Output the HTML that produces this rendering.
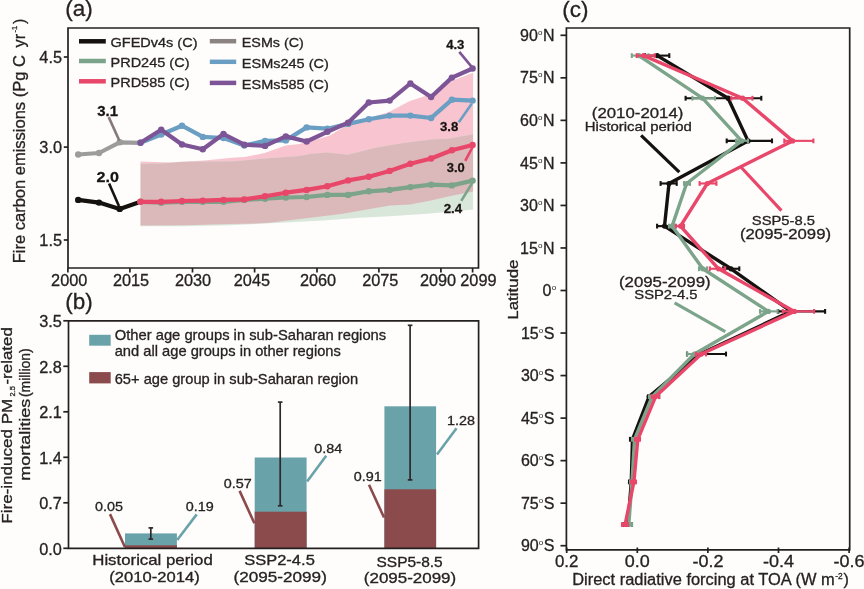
<!DOCTYPE html>
<html><head><meta charset="utf-8"><title>Figure</title>
<style>html,body{margin:0;padding:0;background:#fefdfb;}svg{display:block;}text{stroke:#272220;stroke-width:0.3px;}</style>
</head><body>
<svg width="864" height="589" viewBox="0 0 864 589" font-family='"Liberation Sans", Arial, sans-serif' fill="#272220">
<rect width="864" height="589" fill="#fefdfb"/>
<defs>
<clipPath id="cg"><polygon points="140.5,163.7 161,163.4 182,161.8 204,161.6 235,161.3 265,158.4 299.4,156 311,153.7 327.4,152.4 347.8,154.8 375.6,147.8 403.3,143.1 431.1,139.4 449.6,138.5 473.1,134.3 473.1,209.5 429.8,213.6 390,216.3 359.6,217.8 322.6,220.6 285.6,222.4 230,225.2 183.2,226.3 140.5,226.2"/></clipPath>
</defs>
<polygon points="140.5,161.6 170.0,162.6 204.0,160.4 235.0,157.5 245.0,156.9 264.7,153.1 285.6,145.6 299.4,143.9 311.0,141.0 330.0,135.5 347.6,124.5 368.5,118.0 389.0,112.0 409.8,101.0 430.8,94.2 451.7,81.1 473.1,72.8 473.1,191.6 449.4,196.2 429.8,200.8 410.0,204.5 390.0,205.6 341.1,213.9 304.0,218.5 267.0,223.1 230.0,224.1 183.2,225.2 140.5,225.6" fill="#f8c4d0" />
<polygon points="140.5,163.7 161.0,163.4 182.0,161.8 204.0,161.6 235.0,161.3 265.0,158.4 299.4,156.0 311.0,153.7 327.4,152.4 347.8,154.8 375.6,147.8 403.3,143.1 431.1,139.4 449.6,138.5 473.1,134.3 473.1,209.5 429.8,213.6 390.0,216.3 359.6,217.8 322.6,220.6 285.6,222.4 230.0,225.2 183.2,226.3 140.5,226.2" fill="#d9e6da" />
<polygon points="140.5,161.6 170.0,162.6 204.0,160.4 235.0,157.5 245.0,156.9 264.7,153.1 285.6,145.6 299.4,143.9 311.0,141.0 330.0,135.5 347.6,124.5 368.5,118.0 389.0,112.0 409.8,101.0 430.8,94.2 451.7,81.1 473.1,72.8 473.1,191.6 449.4,196.2 429.8,200.8 410.0,204.5 390.0,205.6 341.1,213.9 304.0,218.5 267.0,223.1 230.0,224.1 183.2,225.2 140.5,225.6" fill="#dbb9ba" clip-path="url(#cg)"/>
<polyline points="78.2,199.9 99.0,202.6 119.7,208.9 140.5,201.8" fill="none" stroke="#14110f" stroke-width="4.2" stroke-linejoin="round" />
<circle cx="78.2" cy="199.9" r="3.2" fill="#14110f"/>
<circle cx="99.0" cy="202.6" r="3.2" fill="#14110f"/>
<circle cx="119.7" cy="208.9" r="3.2" fill="#14110f"/>
<polyline points="78.2,154.5 99.0,153.0 119.7,142.3 140.5,142.8" fill="none" stroke="#9c9c9b" stroke-width="4.2" stroke-linejoin="round" />
<circle cx="78.2" cy="154.5" r="3.2" fill="#9c9c9b"/>
<circle cx="99.0" cy="153.0" r="3.2" fill="#9c9c9b"/>
<circle cx="119.7" cy="142.3" r="3.2" fill="#9c9c9b"/>
<polyline points="140.5,142.8 161.2,134.5 182.0,125.7 202.8,136.9 223.5,138.0 244.3,145.6 265.0,140.9 285.8,140.4 306.6,127.4 327.3,128.7 348.1,123.9 368.8,119.2 389.6,115.6 410.4,115.6 431.1,118.0 451.9,99.7 472.6,100.6" fill="none" stroke="#6a9fc3" stroke-width="4.2" stroke-linejoin="round" />
<circle cx="140.5" cy="142.8" r="3.2" fill="#6a9fc3"/>
<circle cx="161.2" cy="134.5" r="3.2" fill="#6a9fc3"/>
<circle cx="182.0" cy="125.7" r="3.2" fill="#6a9fc3"/>
<circle cx="202.8" cy="136.9" r="3.2" fill="#6a9fc3"/>
<circle cx="223.5" cy="138.0" r="3.2" fill="#6a9fc3"/>
<circle cx="244.3" cy="145.6" r="3.2" fill="#6a9fc3"/>
<circle cx="265.0" cy="140.9" r="3.2" fill="#6a9fc3"/>
<circle cx="285.8" cy="140.4" r="3.2" fill="#6a9fc3"/>
<circle cx="306.6" cy="127.4" r="3.2" fill="#6a9fc3"/>
<circle cx="327.3" cy="128.7" r="3.2" fill="#6a9fc3"/>
<circle cx="348.1" cy="123.9" r="3.2" fill="#6a9fc3"/>
<circle cx="368.8" cy="119.2" r="3.2" fill="#6a9fc3"/>
<circle cx="389.6" cy="115.6" r="3.2" fill="#6a9fc3"/>
<circle cx="410.4" cy="115.6" r="3.2" fill="#6a9fc3"/>
<circle cx="431.1" cy="118.0" r="3.2" fill="#6a9fc3"/>
<circle cx="451.9" cy="99.7" r="3.2" fill="#6a9fc3"/>
<circle cx="472.6" cy="100.6" r="3.2" fill="#6a9fc3"/>
<polyline points="140.5,142.8 161.2,129.7 182.0,144.5 202.8,149.2 223.5,134.0 244.3,144.7 265.0,145.9 285.8,136.4 306.6,141.5 327.3,131.8 348.1,122.7 368.8,102.5 389.6,100.6 410.4,83.5 431.1,97.0 451.9,77.6 472.6,68.5" fill="none" stroke="#7d5597" stroke-width="4.2" stroke-linejoin="round" />
<circle cx="140.5" cy="142.8" r="3.2" fill="#7d5597"/>
<circle cx="161.2" cy="129.7" r="3.2" fill="#7d5597"/>
<circle cx="182.0" cy="144.5" r="3.2" fill="#7d5597"/>
<circle cx="202.8" cy="149.2" r="3.2" fill="#7d5597"/>
<circle cx="223.5" cy="134.0" r="3.2" fill="#7d5597"/>
<circle cx="244.3" cy="144.7" r="3.2" fill="#7d5597"/>
<circle cx="265.0" cy="145.9" r="3.2" fill="#7d5597"/>
<circle cx="285.8" cy="136.4" r="3.2" fill="#7d5597"/>
<circle cx="306.6" cy="141.5" r="3.2" fill="#7d5597"/>
<circle cx="327.3" cy="131.8" r="3.2" fill="#7d5597"/>
<circle cx="348.1" cy="122.7" r="3.2" fill="#7d5597"/>
<circle cx="368.8" cy="102.5" r="3.2" fill="#7d5597"/>
<circle cx="389.6" cy="100.6" r="3.2" fill="#7d5597"/>
<circle cx="410.4" cy="83.5" r="3.2" fill="#7d5597"/>
<circle cx="431.1" cy="97.0" r="3.2" fill="#7d5597"/>
<circle cx="451.9" cy="77.6" r="3.2" fill="#7d5597"/>
<circle cx="472.6" cy="68.5" r="3.2" fill="#7d5597"/>
<polyline points="140.5,201.8 161.2,202.7 182.0,201.8 202.8,201.8 223.5,201.8 244.3,199.9 265.0,198.7 285.8,197.5 306.6,197.0 327.3,194.9 348.1,194.9 368.8,191.3 389.6,189.9 410.4,187.1 431.1,184.7 451.9,185.4 472.6,180.6" fill="none" stroke="#7ca48b" stroke-width="4.2" stroke-linejoin="round" />
<circle cx="140.5" cy="201.8" r="3.2" fill="#7ca48b"/>
<circle cx="161.2" cy="202.7" r="3.2" fill="#7ca48b"/>
<circle cx="182.0" cy="201.8" r="3.2" fill="#7ca48b"/>
<circle cx="202.8" cy="201.8" r="3.2" fill="#7ca48b"/>
<circle cx="223.5" cy="201.8" r="3.2" fill="#7ca48b"/>
<circle cx="244.3" cy="199.9" r="3.2" fill="#7ca48b"/>
<circle cx="265.0" cy="198.7" r="3.2" fill="#7ca48b"/>
<circle cx="285.8" cy="197.5" r="3.2" fill="#7ca48b"/>
<circle cx="306.6" cy="197.0" r="3.2" fill="#7ca48b"/>
<circle cx="327.3" cy="194.9" r="3.2" fill="#7ca48b"/>
<circle cx="348.1" cy="194.9" r="3.2" fill="#7ca48b"/>
<circle cx="368.8" cy="191.3" r="3.2" fill="#7ca48b"/>
<circle cx="389.6" cy="189.9" r="3.2" fill="#7ca48b"/>
<circle cx="410.4" cy="187.1" r="3.2" fill="#7ca48b"/>
<circle cx="431.1" cy="184.7" r="3.2" fill="#7ca48b"/>
<circle cx="451.9" cy="185.4" r="3.2" fill="#7ca48b"/>
<circle cx="472.6" cy="180.6" r="3.2" fill="#7ca48b"/>
<polyline points="140.5,201.8 161.2,201.8 182.0,201.0 202.8,200.6 223.5,199.9 244.3,199.4 265.0,196.3 285.8,192.7 306.6,189.9 327.3,186.3 348.1,180.4 368.8,176.8 389.6,170.9 410.4,163.8 431.1,158.5 451.9,150.2 472.6,145.0" fill="none" stroke="#e8476a" stroke-width="4.2" stroke-linejoin="round" />
<circle cx="140.5" cy="201.8" r="3.2" fill="#e8476a"/>
<circle cx="161.2" cy="201.8" r="3.2" fill="#e8476a"/>
<circle cx="182.0" cy="201.0" r="3.2" fill="#e8476a"/>
<circle cx="202.8" cy="200.6" r="3.2" fill="#e8476a"/>
<circle cx="223.5" cy="199.9" r="3.2" fill="#e8476a"/>
<circle cx="244.3" cy="199.4" r="3.2" fill="#e8476a"/>
<circle cx="265.0" cy="196.3" r="3.2" fill="#e8476a"/>
<circle cx="285.8" cy="192.7" r="3.2" fill="#e8476a"/>
<circle cx="306.6" cy="189.9" r="3.2" fill="#e8476a"/>
<circle cx="327.3" cy="186.3" r="3.2" fill="#e8476a"/>
<circle cx="348.1" cy="180.4" r="3.2" fill="#e8476a"/>
<circle cx="368.8" cy="176.8" r="3.2" fill="#e8476a"/>
<circle cx="389.6" cy="170.9" r="3.2" fill="#e8476a"/>
<circle cx="410.4" cy="163.8" r="3.2" fill="#e8476a"/>
<circle cx="431.1" cy="158.5" r="3.2" fill="#e8476a"/>
<circle cx="451.9" cy="150.2" r="3.2" fill="#e8476a"/>
<circle cx="472.6" cy="145.0" r="3.2" fill="#e8476a"/>
<line x1="108.7" y1="117.1" x2="119.3" y2="140.5" stroke="#85797a" stroke-width="2.6" />
<text x="97.3" y="115.5" font-size="15.5" textLength="20.8" lengthAdjust="spacingAndGlyphs" font-weight="bold" fill="#151210" >3.1</text>
<line x1="109.1" y1="183.5" x2="118.9" y2="206" stroke="#14110f" stroke-width="2.6" />
<text x="96.6" y="182.1" font-size="15.5" textLength="22.4" lengthAdjust="spacingAndGlyphs" font-weight="bold" fill="#151210" >2.0</text>
<line x1="459.3" y1="51.9" x2="471.7" y2="66.9" stroke="#7d5597" stroke-width="2.6" />
<text x="446.2" y="48.9" font-size="13.3" textLength="18.2" lengthAdjust="spacingAndGlyphs" font-weight="bold" fill="#151210" >4.3</text>
<line x1="458.8" y1="122.2" x2="471.7" y2="103.7" stroke="#6a9fc3" stroke-width="2.6" />
<text x="440" y="130.8" font-size="13.3" textLength="18.4" lengthAdjust="spacingAndGlyphs" font-weight="bold" fill="#151210" >3.8</text>
<line x1="465.2" y1="160.9" x2="473.1" y2="146.2" stroke="#e8476a" stroke-width="2.6" />
<text x="446.8" y="171.6" font-size="13.3" textLength="18" lengthAdjust="spacingAndGlyphs" font-weight="bold" fill="#151210" >3.0</text>
<line x1="461.2" y1="200.9" x2="472.4" y2="182.8" stroke="#7ca48b" stroke-width="2.6" />
<text x="443.7" y="212.7" font-size="13.3" textLength="18.5" lengthAdjust="spacingAndGlyphs" font-weight="bold" fill="#151210" >2.4</text>
<line x1="79" y1="41.3" x2="105.8" y2="41.3" stroke="#14110f" stroke-width="4.5" />
<text x="110.5" y="47.099999999999994" font-size="13.3" textLength="87" lengthAdjust="spacingAndGlyphs" >GFEDv4s (C)</text>
<line x1="79" y1="61.0" x2="105.8" y2="61.0" stroke="#7ca48b" stroke-width="4.5" />
<text x="110.5" y="66.8" font-size="13.3" textLength="79" lengthAdjust="spacingAndGlyphs" >PRD245 (C)</text>
<line x1="79" y1="81.3" x2="105.8" y2="81.3" stroke="#e8476a" stroke-width="4.5" />
<text x="110.5" y="87.1" font-size="13.3" textLength="79" lengthAdjust="spacingAndGlyphs" >PRD585 (C)</text>
<line x1="209.8" y1="41.2" x2="236.2" y2="41.2" stroke="#8b8282" stroke-width="4.5" />
<text x="241.8" y="47.0" font-size="13.3" textLength="62" lengthAdjust="spacingAndGlyphs" >ESMs (C)</text>
<line x1="209.8" y1="61.8" x2="236.2" y2="61.8" stroke="#6a9fc3" stroke-width="4.5" />
<text x="241.8" y="67.6" font-size="13.3" textLength="87" lengthAdjust="spacingAndGlyphs" >ESMs245 (C)</text>
<line x1="209.8" y1="82.9" x2="236.2" y2="82.9" stroke="#7d5597" stroke-width="4.5" />
<text x="241.8" y="88.7" font-size="13.3" textLength="87" lengthAdjust="spacingAndGlyphs" >ESMs585 (C)</text>
<path d="M68 268 V28 H478.5 V268 Z" fill="none" stroke="#242020" stroke-width="1.7"/>
<line x1="63.8" y1="57" x2="68" y2="57" stroke="#242020" stroke-width="1.7" />
<text x="62" y="62.7" font-size="16.3" text-anchor="end" >4.5</text>
<line x1="63.8" y1="147.1" x2="68" y2="147.1" stroke="#242020" stroke-width="1.7" />
<text x="62" y="152.79999999999998" font-size="16.3" text-anchor="end" >3.0</text>
<line x1="63.8" y1="240" x2="68" y2="240" stroke="#242020" stroke-width="1.7" />
<text x="62" y="245.7" font-size="16.3" text-anchor="end" >1.5</text>
<line x1="67.9" y1="268" x2="67.9" y2="272.5" stroke="#242020" stroke-width="1.7" />
<text x="69.2" y="286.3" font-size="16.3" text-anchor="middle" >2000</text>
<line x1="129.9" y1="268" x2="129.9" y2="272.5" stroke="#242020" stroke-width="1.7" />
<text x="131" y="286.3" font-size="16.3" text-anchor="middle" >2015</text>
<line x1="192.5" y1="268" x2="192.5" y2="272.5" stroke="#242020" stroke-width="1.7" />
<text x="193" y="286.3" font-size="16.3" text-anchor="middle" >2030</text>
<line x1="254.6" y1="268" x2="254.6" y2="272.5" stroke="#242020" stroke-width="1.7" />
<text x="251.9" y="286.3" font-size="16.3" text-anchor="middle" >2045</text>
<line x1="317" y1="268" x2="317" y2="272.5" stroke="#242020" stroke-width="1.7" />
<text x="318" y="286.3" font-size="16.3" text-anchor="middle" >2060</text>
<line x1="378.9" y1="268" x2="378.9" y2="272.5" stroke="#242020" stroke-width="1.7" />
<text x="380.3" y="286.3" font-size="16.3" text-anchor="middle" >2075</text>
<line x1="440.9" y1="268" x2="440.9" y2="272.5" stroke="#242020" stroke-width="1.7" />
<text x="438" y="286.3" font-size="16.3" text-anchor="middle" >2090</text>
<line x1="472.6" y1="268" x2="472.6" y2="272.5" stroke="#242020" stroke-width="1.7" />
<text x="478.4" y="286.3" font-size="16.3" text-anchor="middle" >2099</text>
<text x="65.3" y="16" font-size="22.5" >(a)</text>
<g transform="translate(25.4 263.2) rotate(-90)">
<text x="0" y="0" font-size="16" textLength="208" lengthAdjust="spacingAndGlyphs" >Fire carbon emissions (Pg C</text>
<text x="215.8" y="0" font-size="16" textLength="13.6" lengthAdjust="spacingAndGlyphs" >yr</text>
<text x="230.6" y="-8.6" font-size="7.5" textLength="6.8" lengthAdjust="spacingAndGlyphs" >-1</text>
<text x="239.2" y="0" font-size="16" >)</text>
</g>
<text x="65.3" y="308.7" font-size="22.5" >(b)</text>
<rect x="89.2" y="334.8" width="21.5" height="10.9" fill="#6aa2aa"/>
<rect x="89.2" y="372.1" width="21.5" height="11.3" fill="#8b4a4c"/>
<text x="114.7" y="339.9" font-size="14.6" textLength="271.5" lengthAdjust="spacingAndGlyphs" >Other age groups in sub-Saharan regions</text>
<text x="114.7" y="356.4" font-size="14.6" textLength="226.2" lengthAdjust="spacingAndGlyphs" >and all age groups in other regions</text>
<text x="114.7" y="384.2" font-size="14.6" textLength="243.5" lengthAdjust="spacingAndGlyphs" >65+ age group in sub-Saharan region</text>
<rect x="125.0" y="533.4" width="51.9" height="14.9" fill="#6aa2aa"/>
<rect x="125.0" y="545.3" width="51.9" height="3.0" fill="#8b4a4c"/>
<rect x="254.7" y="457.5" width="51.9" height="90.8" fill="#6aa2aa"/>
<rect x="254.7" y="511.7" width="51.9" height="36.6" fill="#8b4a4c"/>
<rect x="384.4" y="406.3" width="51.7" height="142.0" fill="#6aa2aa"/>
<rect x="384.4" y="489.3" width="51.7" height="59.0" fill="#8b4a4c"/>
<line x1="150.8" y1="527.9" x2="150.8" y2="539.1" stroke="#2f2829" stroke-width="1.7" />
<line x1="148.5" y1="527.9" x2="153.10000000000002" y2="527.9" stroke="#2f2829" stroke-width="1.7" />
<line x1="148.5" y1="539.1" x2="153.10000000000002" y2="539.1" stroke="#2f2829" stroke-width="1.7" />
<line x1="280.2" y1="402.1" x2="280.2" y2="505.8" stroke="#2f2829" stroke-width="1.7" />
<line x1="277.9" y1="402.1" x2="282.5" y2="402.1" stroke="#2f2829" stroke-width="1.7" />
<line x1="277.9" y1="505.8" x2="282.5" y2="505.8" stroke="#2f2829" stroke-width="1.7" />
<line x1="410.1" y1="325.3" x2="410.1" y2="479.9" stroke="#2f2829" stroke-width="1.7" />
<line x1="407.8" y1="325.3" x2="412.40000000000003" y2="325.3" stroke="#2f2829" stroke-width="1.7" />
<line x1="407.8" y1="479.9" x2="412.40000000000003" y2="479.9" stroke="#2f2829" stroke-width="1.7" />
<line x1="110" y1="514.1" x2="125" y2="547.2" stroke="#8b4a4c" stroke-width="2.6" />
<line x1="196.7" y1="514.4" x2="177.2" y2="540" stroke="#6aa2aa" stroke-width="2.6" />
<line x1="239.6" y1="490.9" x2="254.4" y2="523.3" stroke="#8b4a4c" stroke-width="2.6" />
<line x1="326.2" y1="455.7" x2="307.1" y2="481.6" stroke="#6aa2aa" stroke-width="2.6" />
<line x1="369" y1="484.7" x2="384" y2="517.5" stroke="#8b4a4c" stroke-width="2.6" />
<line x1="456.5" y1="428.3" x2="437" y2="454.5" stroke="#6aa2aa" stroke-width="2.6" />
<text x="94.9" y="510.7" font-size="13.3" textLength="28" lengthAdjust="spacingAndGlyphs" >0.05</text>
<text x="185.7" y="510.7" font-size="13.3" textLength="28" lengthAdjust="spacingAndGlyphs" >0.19</text>
<text x="223.8" y="487.7" font-size="13.3" textLength="28" lengthAdjust="spacingAndGlyphs" >0.57</text>
<text x="314.3" y="452.5" font-size="13.3" textLength="28" lengthAdjust="spacingAndGlyphs" >0.84</text>
<text x="353.8" y="481.3" font-size="13.3" textLength="28" lengthAdjust="spacingAndGlyphs" >0.91</text>
<text x="447" y="425.1" font-size="13.3" textLength="28" lengthAdjust="spacingAndGlyphs" >1.28</text>
<path d="M68.5 548.3 V320.8 H478.6 V548.3 Z" fill="none" stroke="#242020" stroke-width="1.7"/>
<line x1="63.3" y1="320.8" x2="68.5" y2="320.8" stroke="#242020" stroke-width="1.7" />
<text x="61.8" y="327.0" font-size="16.3" text-anchor="end" >3.5</text>
<line x1="63.3" y1="366.3" x2="68.5" y2="366.3" stroke="#242020" stroke-width="1.7" />
<text x="61.8" y="372.5" font-size="16.3" text-anchor="end" >2.8</text>
<line x1="63.3" y1="411.79999999999995" x2="68.5" y2="411.79999999999995" stroke="#242020" stroke-width="1.7" />
<text x="61.8" y="417.99999999999994" font-size="16.3" text-anchor="end" >2.1</text>
<line x1="63.3" y1="457.29999999999995" x2="68.5" y2="457.29999999999995" stroke="#242020" stroke-width="1.7" />
<text x="61.8" y="463.49999999999994" font-size="16.3" text-anchor="end" >1.4</text>
<line x1="63.3" y1="502.79999999999995" x2="68.5" y2="502.79999999999995" stroke="#242020" stroke-width="1.7" />
<text x="61.8" y="508.99999999999994" font-size="16.3" text-anchor="end" >0.7</text>
<line x1="63.3" y1="548.3" x2="68.5" y2="548.3" stroke="#242020" stroke-width="1.7" />
<text x="61.8" y="554.5" font-size="16.3" text-anchor="end" >0.0</text>
<text x="152.5" y="565" font-size="14.5" textLength="120.5" lengthAdjust="spacingAndGlyphs" text-anchor="middle" >Historical period</text>
<text x="154.5" y="582" font-size="14.5" textLength="90.4" lengthAdjust="spacingAndGlyphs" text-anchor="middle" >(2010-2014)</text>
<text x="279.5" y="564.7" font-size="14.5" textLength="70.7" lengthAdjust="spacingAndGlyphs" text-anchor="middle" >SSP2-4.5</text>
<text x="280.2" y="582" font-size="14.5" textLength="93.3" lengthAdjust="spacingAndGlyphs" text-anchor="middle" >(2095-2099)</text>
<text x="409.6" y="566.5" font-size="13.8" textLength="66.2" lengthAdjust="spacingAndGlyphs" text-anchor="middle" >SSP5-8.5</text>
<text x="410" y="582.5" font-size="14.5" textLength="92.4" lengthAdjust="spacingAndGlyphs" text-anchor="middle" >(2095-2099)</text>
<g transform="translate(11.9 523.7) rotate(-90)">
<text x="0" y="0" font-size="14.8" textLength="125" lengthAdjust="spacingAndGlyphs" >Fire-induced PM</text>
<text x="127.3" y="3.4" font-size="8" textLength="10.4" lengthAdjust="spacingAndGlyphs" >2.5</text>
<text x="139.2" y="0" font-size="14.8" textLength="57.3" lengthAdjust="spacingAndGlyphs" >-related</text>
</g>
<g transform="translate(29.5 480.7) rotate(-90)">
<text x="0" y="0" font-size="15.5" textLength="82" lengthAdjust="spacingAndGlyphs" >mortalities</text>
<text x="83.6" y="0" font-size="13.8" textLength="48.8" lengthAdjust="spacingAndGlyphs" >(million)</text>
</g>
<text x="562.2" y="16.5" font-size="22.5" >(c)</text>
<path d="M566.4 549.8 V28 H849.7 V549.8 Z" fill="none" stroke="#242020" stroke-width="1.7"/>
<line x1="560.5" y1="35.3" x2="566.4" y2="35.3" stroke="#242020" stroke-width="1.7" />
<text x="554.5" y="40.9" font-size="16" text-anchor="end" >90<tspan font-size="8" dy="-6" style="stroke-width:0">o</tspan><tspan dy="6" dx="0.6">N</tspan></text>
<line x1="560.5" y1="77.834" x2="566.4" y2="77.834" stroke="#242020" stroke-width="1.7" />
<text x="554.5" y="83.434" font-size="16" text-anchor="end" >75<tspan font-size="8" dy="-6" style="stroke-width:0">o</tspan><tspan dy="6" dx="0.6">N</tspan></text>
<line x1="560.5" y1="120.368" x2="566.4" y2="120.368" stroke="#242020" stroke-width="1.7" />
<text x="554.5" y="125.96799999999999" font-size="16" text-anchor="end" >60<tspan font-size="8" dy="-6" style="stroke-width:0">o</tspan><tspan dy="6" dx="0.6">N</tspan></text>
<line x1="560.5" y1="162.902" x2="566.4" y2="162.902" stroke="#242020" stroke-width="1.7" />
<text x="554.5" y="168.50199999999998" font-size="16" text-anchor="end" >45<tspan font-size="8" dy="-6" style="stroke-width:0">o</tspan><tspan dy="6" dx="0.6">N</tspan></text>
<line x1="560.5" y1="205.43599999999998" x2="566.4" y2="205.43599999999998" stroke="#242020" stroke-width="1.7" />
<text x="554.5" y="211.03599999999997" font-size="16" text-anchor="end" >30<tspan font-size="8" dy="-6" style="stroke-width:0">o</tspan><tspan dy="6" dx="0.6">N</tspan></text>
<line x1="560.5" y1="247.96999999999997" x2="566.4" y2="247.96999999999997" stroke="#242020" stroke-width="1.7" />
<text x="554.5" y="253.56999999999996" font-size="16" text-anchor="end" >15<tspan font-size="8" dy="-6" style="stroke-width:0">o</tspan><tspan dy="6" dx="0.6">N</tspan></text>
<line x1="560.5" y1="290.50399999999996" x2="566.4" y2="290.50399999999996" stroke="#242020" stroke-width="1.7" />
<text x="556.3" y="296.104" font-size="16" text-anchor="end" >0<tspan font-size="8" dy="-6" dx="0.4" style="stroke-width:0">o</tspan></text>
<line x1="560.5" y1="333.038" x2="566.4" y2="333.038" stroke="#242020" stroke-width="1.7" />
<text x="554.5" y="338.63800000000003" font-size="16" text-anchor="end" >15<tspan font-size="8" dy="-6" style="stroke-width:0">o</tspan><tspan dy="6" dx="0.6">S</tspan></text>
<line x1="560.5" y1="375.572" x2="566.4" y2="375.572" stroke="#242020" stroke-width="1.7" />
<text x="554.5" y="381.172" font-size="16" text-anchor="end" >30<tspan font-size="8" dy="-6" style="stroke-width:0">o</tspan><tspan dy="6" dx="0.6">S</tspan></text>
<line x1="560.5" y1="418.106" x2="566.4" y2="418.106" stroke="#242020" stroke-width="1.7" />
<text x="554.5" y="423.706" font-size="16" text-anchor="end" >45<tspan font-size="8" dy="-6" style="stroke-width:0">o</tspan><tspan dy="6" dx="0.6">S</tspan></text>
<line x1="560.5" y1="460.64" x2="566.4" y2="460.64" stroke="#242020" stroke-width="1.7" />
<text x="554.5" y="466.24" font-size="16" text-anchor="end" >60<tspan font-size="8" dy="-6" style="stroke-width:0">o</tspan><tspan dy="6" dx="0.6">S</tspan></text>
<line x1="560.5" y1="503.174" x2="566.4" y2="503.174" stroke="#242020" stroke-width="1.7" />
<text x="554.5" y="508.774" font-size="16" text-anchor="end" >75<tspan font-size="8" dy="-6" style="stroke-width:0">o</tspan><tspan dy="6" dx="0.6">S</tspan></text>
<line x1="560.5" y1="545.708" x2="566.4" y2="545.708" stroke="#242020" stroke-width="1.7" />
<text x="554.5" y="551.308" font-size="16" text-anchor="end" >90<tspan font-size="8" dy="-6" style="stroke-width:0">o</tspan><tspan dy="6" dx="0.6">S</tspan></text>
<line x1="566.6999999999999" y1="547.5" x2="566.6999999999999" y2="553" stroke="#242020" stroke-width="1.7" />
<text x="566.6999999999999" y="567" font-size="16.8" textLength="23.5" lengthAdjust="spacingAndGlyphs" text-anchor="middle" >0.2</text>
<line x1="637.3" y1="547.5" x2="637.3" y2="553" stroke="#242020" stroke-width="1.7" />
<text x="637.3" y="567" font-size="16.8" textLength="25" lengthAdjust="spacingAndGlyphs" text-anchor="middle" >0.0</text>
<line x1="707.9" y1="547.5" x2="707.9" y2="553" stroke="#242020" stroke-width="1.7" />
<text x="707.9" y="567" font-size="16.8" textLength="31" lengthAdjust="spacingAndGlyphs" text-anchor="middle" >-0.2</text>
<line x1="778.5" y1="547.5" x2="778.5" y2="553" stroke="#242020" stroke-width="1.7" />
<text x="778.5" y="567" font-size="16.8" textLength="31" lengthAdjust="spacingAndGlyphs" text-anchor="middle" >-0.4</text>
<line x1="849.0999999999999" y1="547.5" x2="849.0999999999999" y2="553" stroke="#242020" stroke-width="1.7" />
<text x="849.0999999999999" y="567" font-size="16.8" textLength="31" lengthAdjust="spacingAndGlyphs" text-anchor="middle" >-0.6</text>
<text x="572.2" y="585" font-size="16" textLength="262.5" lengthAdjust="spacingAndGlyphs" >Direct radiative forcing at TOA (W m</text>
<text x="835.3" y="579" font-size="8.5" textLength="7.5" lengthAdjust="spacingAndGlyphs" >-2</text>
<text x="843.6" y="585" font-size="16" >)</text>
<text x="517.9" y="319.7" font-size="14.6" textLength="60.2" lengthAdjust="spacingAndGlyphs" transform="rotate(-90 517.9 319.7)">Latitude</text>
<line x1="645" y1="55.6" x2="669.3" y2="55.6" stroke="#14110f" stroke-width="2.1" />
<line x1="645" y1="53.2" x2="645" y2="58.0" stroke="#14110f" stroke-width="2.1" />
<line x1="669.3" y1="53.2" x2="669.3" y2="58.0" stroke="#14110f" stroke-width="2.1" />
<line x1="685.6" y1="98.23" x2="761.3" y2="98.23" stroke="#14110f" stroke-width="2.1" />
<line x1="685.6" y1="95.83" x2="685.6" y2="100.63000000000001" stroke="#14110f" stroke-width="2.1" />
<line x1="761.3" y1="95.83" x2="761.3" y2="100.63000000000001" stroke="#14110f" stroke-width="2.1" />
<line x1="726.7" y1="140.86" x2="772" y2="140.86" stroke="#14110f" stroke-width="2.1" />
<line x1="726.7" y1="138.46" x2="726.7" y2="143.26000000000002" stroke="#14110f" stroke-width="2.1" />
<line x1="772" y1="138.46" x2="772" y2="143.26000000000002" stroke="#14110f" stroke-width="2.1" />
<line x1="660.6" y1="183.49" x2="676.7" y2="183.49" stroke="#14110f" stroke-width="2.1" />
<line x1="660.6" y1="181.09" x2="660.6" y2="185.89000000000001" stroke="#14110f" stroke-width="2.1" />
<line x1="676.7" y1="181.09" x2="676.7" y2="185.89000000000001" stroke="#14110f" stroke-width="2.1" />
<line x1="657.1" y1="226.12" x2="672" y2="226.12" stroke="#14110f" stroke-width="2.1" />
<line x1="657.1" y1="223.72" x2="657.1" y2="228.52" stroke="#14110f" stroke-width="2.1" />
<line x1="672" y1="223.72" x2="672" y2="228.52" stroke="#14110f" stroke-width="2.1" />
<line x1="723" y1="268.75" x2="739.3" y2="268.75" stroke="#14110f" stroke-width="2.1" />
<line x1="723" y1="266.35" x2="723" y2="271.15" stroke="#14110f" stroke-width="2.1" />
<line x1="739.3" y1="266.35" x2="739.3" y2="271.15" stroke="#14110f" stroke-width="2.1" />
<line x1="778.2" y1="311.38000000000005" x2="825.1" y2="311.38000000000005" stroke="#14110f" stroke-width="2.1" />
<line x1="778.2" y1="308.9800000000001" x2="778.2" y2="313.78000000000003" stroke="#14110f" stroke-width="2.1" />
<line x1="825.1" y1="308.9800000000001" x2="825.1" y2="313.78000000000003" stroke="#14110f" stroke-width="2.1" />
<line x1="687" y1="354.01000000000005" x2="726" y2="354.01000000000005" stroke="#14110f" stroke-width="2.1" />
<line x1="687" y1="351.61000000000007" x2="687" y2="356.41" stroke="#14110f" stroke-width="2.1" />
<line x1="726" y1="351.61000000000007" x2="726" y2="356.41" stroke="#14110f" stroke-width="2.1" />
<line x1="648.5" y1="396.64000000000004" x2="659.2" y2="396.64000000000004" stroke="#14110f" stroke-width="2.1" />
<line x1="648.5" y1="394.24000000000007" x2="648.5" y2="399.04" stroke="#14110f" stroke-width="2.1" />
<line x1="659.2" y1="394.24000000000007" x2="659.2" y2="399.04" stroke="#14110f" stroke-width="2.1" />
<line x1="630" y1="439.27000000000004" x2="635" y2="439.27000000000004" stroke="#14110f" stroke-width="2.1" />
<line x1="630" y1="436.87000000000006" x2="630" y2="441.67" stroke="#14110f" stroke-width="2.1" />
<line x1="635" y1="436.87000000000006" x2="635" y2="441.67" stroke="#14110f" stroke-width="2.1" />
<line x1="629" y1="481.90000000000003" x2="633" y2="481.90000000000003" stroke="#14110f" stroke-width="2.1" />
<line x1="629" y1="479.50000000000006" x2="629" y2="484.3" stroke="#14110f" stroke-width="2.1" />
<line x1="633" y1="479.50000000000006" x2="633" y2="484.3" stroke="#14110f" stroke-width="2.1" />
<line x1="624" y1="524.53" x2="632" y2="524.53" stroke="#14110f" stroke-width="2.1" />
<line x1="624" y1="522.13" x2="624" y2="526.93" stroke="#14110f" stroke-width="2.1" />
<line x1="632" y1="522.13" x2="632" y2="526.93" stroke="#14110f" stroke-width="2.1" />
<polyline points="657.2,55.6 728.1,98.2 748.0,140.9 669.0,183.5 664.5,226.1 731.0,268.8 791.0,311.4 700.0,354.0 649.1,396.6 632.5,439.3 631.3,481.9 628.0,524.5" fill="none" stroke="#14110f" stroke-width="3.4" stroke-linejoin="round" />
<circle cx="657.2" cy="55.6" r="2.6" fill="#14110f"/>
<circle cx="728.1" cy="98.2" r="2.6" fill="#14110f"/>
<circle cx="748.0" cy="140.9" r="2.6" fill="#14110f"/>
<circle cx="669.0" cy="183.5" r="2.6" fill="#14110f"/>
<circle cx="664.5" cy="226.1" r="2.6" fill="#14110f"/>
<circle cx="731.0" cy="268.8" r="2.6" fill="#14110f"/>
<circle cx="791.0" cy="311.4" r="2.6" fill="#14110f"/>
<circle cx="700.0" cy="354.0" r="2.6" fill="#14110f"/>
<circle cx="649.1" cy="396.6" r="2.6" fill="#14110f"/>
<circle cx="632.5" cy="439.3" r="2.6" fill="#14110f"/>
<circle cx="631.3" cy="481.9" r="2.6" fill="#14110f"/>
<circle cx="628.0" cy="524.5" r="2.6" fill="#14110f"/>
<line x1="631.8" y1="55.6" x2="648.5" y2="55.6" stroke="#7ca48b" stroke-width="2.1" />
<line x1="631.8" y1="53.2" x2="631.8" y2="58.0" stroke="#7ca48b" stroke-width="2.1" />
<line x1="648.5" y1="53.2" x2="648.5" y2="58.0" stroke="#7ca48b" stroke-width="2.1" />
<line x1="692.4" y1="98.23" x2="715.1" y2="98.23" stroke="#7ca48b" stroke-width="2.1" />
<line x1="692.4" y1="95.83" x2="692.4" y2="100.63000000000001" stroke="#7ca48b" stroke-width="2.1" />
<line x1="715.1" y1="95.83" x2="715.1" y2="100.63000000000001" stroke="#7ca48b" stroke-width="2.1" />
<line x1="736" y1="140.86" x2="748" y2="140.86" stroke="#7ca48b" stroke-width="2.1" />
<line x1="736" y1="138.46" x2="736" y2="143.26000000000002" stroke="#7ca48b" stroke-width="2.1" />
<line x1="748" y1="138.46" x2="748" y2="143.26000000000002" stroke="#7ca48b" stroke-width="2.1" />
<line x1="684" y1="183.49" x2="690" y2="183.49" stroke="#7ca48b" stroke-width="2.1" />
<line x1="684" y1="181.09" x2="684" y2="185.89000000000001" stroke="#7ca48b" stroke-width="2.1" />
<line x1="690" y1="181.09" x2="690" y2="185.89000000000001" stroke="#7ca48b" stroke-width="2.1" />
<line x1="669" y1="226.12" x2="675" y2="226.12" stroke="#7ca48b" stroke-width="2.1" />
<line x1="669" y1="223.72" x2="669" y2="228.52" stroke="#7ca48b" stroke-width="2.1" />
<line x1="675" y1="223.72" x2="675" y2="228.52" stroke="#7ca48b" stroke-width="2.1" />
<line x1="699" y1="268.75" x2="707" y2="268.75" stroke="#7ca48b" stroke-width="2.1" />
<line x1="699" y1="266.35" x2="699" y2="271.15" stroke="#7ca48b" stroke-width="2.1" />
<line x1="707" y1="266.35" x2="707" y2="271.15" stroke="#7ca48b" stroke-width="2.1" />
<line x1="760" y1="311.38000000000005" x2="777.6" y2="311.38000000000005" stroke="#7ca48b" stroke-width="2.1" />
<line x1="760" y1="308.9800000000001" x2="760" y2="313.78000000000003" stroke="#7ca48b" stroke-width="2.1" />
<line x1="777.6" y1="308.9800000000001" x2="777.6" y2="313.78000000000003" stroke="#7ca48b" stroke-width="2.1" />
<line x1="687.2" y1="354.01000000000005" x2="700" y2="354.01000000000005" stroke="#7ca48b" stroke-width="2.1" />
<line x1="687.2" y1="351.61000000000007" x2="687.2" y2="356.41" stroke="#7ca48b" stroke-width="2.1" />
<line x1="700" y1="351.61000000000007" x2="700" y2="356.41" stroke="#7ca48b" stroke-width="2.1" />
<line x1="649" y1="396.64000000000004" x2="655" y2="396.64000000000004" stroke="#7ca48b" stroke-width="2.1" />
<line x1="649" y1="394.24000000000007" x2="649" y2="399.04" stroke="#7ca48b" stroke-width="2.1" />
<line x1="655" y1="394.24000000000007" x2="655" y2="399.04" stroke="#7ca48b" stroke-width="2.1" />
<line x1="632" y1="439.27000000000004" x2="637" y2="439.27000000000004" stroke="#7ca48b" stroke-width="2.1" />
<line x1="632" y1="436.87000000000006" x2="632" y2="441.67" stroke="#7ca48b" stroke-width="2.1" />
<line x1="637" y1="436.87000000000006" x2="637" y2="441.67" stroke="#7ca48b" stroke-width="2.1" />
<line x1="630" y1="481.90000000000003" x2="634" y2="481.90000000000003" stroke="#7ca48b" stroke-width="2.1" />
<line x1="630" y1="479.50000000000006" x2="630" y2="484.3" stroke="#7ca48b" stroke-width="2.1" />
<line x1="634" y1="479.50000000000006" x2="634" y2="484.3" stroke="#7ca48b" stroke-width="2.1" />
<line x1="625" y1="524.53" x2="632" y2="524.53" stroke="#7ca48b" stroke-width="2.1" />
<line x1="625" y1="522.13" x2="625" y2="526.93" stroke="#7ca48b" stroke-width="2.1" />
<line x1="632" y1="522.13" x2="632" y2="526.93" stroke="#7ca48b" stroke-width="2.1" />
<polyline points="638.8,55.6 702.5,98.2 741.6,140.9 686.6,183.5 672.1,226.1 702.8,268.8 768.4,311.4 694.4,354.0 652.1,396.6 634.5,439.3 632.0,481.9 628.8,524.5" fill="none" stroke="#7ca48b" stroke-width="3.4" stroke-linejoin="round" />
<circle cx="638.8" cy="55.6" r="2.6" fill="#7ca48b"/>
<circle cx="702.5" cy="98.2" r="2.6" fill="#7ca48b"/>
<circle cx="741.6" cy="140.9" r="2.6" fill="#7ca48b"/>
<circle cx="686.6" cy="183.5" r="2.6" fill="#7ca48b"/>
<circle cx="672.1" cy="226.1" r="2.6" fill="#7ca48b"/>
<circle cx="702.8" cy="268.8" r="2.6" fill="#7ca48b"/>
<circle cx="768.4" cy="311.4" r="2.6" fill="#7ca48b"/>
<circle cx="694.4" cy="354.0" r="2.6" fill="#7ca48b"/>
<circle cx="652.1" cy="396.6" r="2.6" fill="#7ca48b"/>
<circle cx="634.5" cy="439.3" r="2.6" fill="#7ca48b"/>
<circle cx="632.0" cy="481.9" r="2.6" fill="#7ca48b"/>
<circle cx="628.8" cy="524.5" r="2.6" fill="#7ca48b"/>
<line x1="636.7" y1="55.6" x2="654.7" y2="55.6" stroke="#e8476a" stroke-width="2.1" />
<line x1="636.7" y1="53.2" x2="636.7" y2="58.0" stroke="#e8476a" stroke-width="2.1" />
<line x1="654.7" y1="53.2" x2="654.7" y2="58.0" stroke="#e8476a" stroke-width="2.1" />
<line x1="731.3" y1="98.23" x2="752.4" y2="98.23" stroke="#e8476a" stroke-width="2.1" />
<line x1="731.3" y1="95.83" x2="731.3" y2="100.63000000000001" stroke="#e8476a" stroke-width="2.1" />
<line x1="752.4" y1="95.83" x2="752.4" y2="100.63000000000001" stroke="#e8476a" stroke-width="2.1" />
<line x1="784.3" y1="140.86" x2="813.4" y2="140.86" stroke="#e8476a" stroke-width="2.1" />
<line x1="784.3" y1="138.46" x2="784.3" y2="143.26000000000002" stroke="#e8476a" stroke-width="2.1" />
<line x1="813.4" y1="138.46" x2="813.4" y2="143.26000000000002" stroke="#e8476a" stroke-width="2.1" />
<line x1="699.6" y1="183.49" x2="716.4" y2="183.49" stroke="#e8476a" stroke-width="2.1" />
<line x1="699.6" y1="181.09" x2="699.6" y2="185.89000000000001" stroke="#e8476a" stroke-width="2.1" />
<line x1="716.4" y1="181.09" x2="716.4" y2="185.89000000000001" stroke="#e8476a" stroke-width="2.1" />
<line x1="676" y1="226.12" x2="684" y2="226.12" stroke="#e8476a" stroke-width="2.1" />
<line x1="676" y1="223.72" x2="676" y2="228.52" stroke="#e8476a" stroke-width="2.1" />
<line x1="684" y1="223.72" x2="684" y2="228.52" stroke="#e8476a" stroke-width="2.1" />
<line x1="709.8" y1="268.75" x2="725.1" y2="268.75" stroke="#e8476a" stroke-width="2.1" />
<line x1="709.8" y1="266.35" x2="709.8" y2="271.15" stroke="#e8476a" stroke-width="2.1" />
<line x1="725.1" y1="266.35" x2="725.1" y2="271.15" stroke="#e8476a" stroke-width="2.1" />
<line x1="782.8" y1="311.38000000000005" x2="814.1" y2="311.38000000000005" stroke="#e8476a" stroke-width="2.1" />
<line x1="782.8" y1="308.9800000000001" x2="782.8" y2="313.78000000000003" stroke="#e8476a" stroke-width="2.1" />
<line x1="814.1" y1="308.9800000000001" x2="814.1" y2="313.78000000000003" stroke="#e8476a" stroke-width="2.1" />
<line x1="696" y1="354.01000000000005" x2="706" y2="354.01000000000005" stroke="#e8476a" stroke-width="2.1" />
<line x1="696" y1="351.61000000000007" x2="696" y2="356.41" stroke="#e8476a" stroke-width="2.1" />
<line x1="706" y1="351.61000000000007" x2="706" y2="356.41" stroke="#e8476a" stroke-width="2.1" />
<line x1="652" y1="396.64000000000004" x2="659" y2="396.64000000000004" stroke="#e8476a" stroke-width="2.1" />
<line x1="652" y1="394.24000000000007" x2="652" y2="399.04" stroke="#e8476a" stroke-width="2.1" />
<line x1="659" y1="394.24000000000007" x2="659" y2="399.04" stroke="#e8476a" stroke-width="2.1" />
<line x1="635" y1="439.27000000000004" x2="640" y2="439.27000000000004" stroke="#e8476a" stroke-width="2.1" />
<line x1="635" y1="436.87000000000006" x2="635" y2="441.67" stroke="#e8476a" stroke-width="2.1" />
<line x1="640" y1="436.87000000000006" x2="640" y2="441.67" stroke="#e8476a" stroke-width="2.1" />
<line x1="631" y1="481.90000000000003" x2="636" y2="481.90000000000003" stroke="#e8476a" stroke-width="2.1" />
<line x1="631" y1="479.50000000000006" x2="631" y2="484.3" stroke="#e8476a" stroke-width="2.1" />
<line x1="636" y1="479.50000000000006" x2="636" y2="484.3" stroke="#e8476a" stroke-width="2.1" />
<line x1="622" y1="524.53" x2="628" y2="524.53" stroke="#e8476a" stroke-width="2.1" />
<line x1="622" y1="522.13" x2="622" y2="526.93" stroke="#e8476a" stroke-width="2.1" />
<line x1="628" y1="522.13" x2="628" y2="526.93" stroke="#e8476a" stroke-width="2.1" />
<polyline points="643.6,55.6 742.6,98.2 792.6,140.9 707.3,183.5 680.5,226.1 718.5,268.8 794.4,311.4 701.3,354.0 655.6,396.6 637.8,439.3 633.9,481.9 625.1,524.5" fill="none" stroke="#e8476a" stroke-width="3.4" stroke-linejoin="round" />
<circle cx="643.6" cy="55.6" r="2.6" fill="#e8476a"/>
<circle cx="742.6" cy="98.2" r="2.6" fill="#e8476a"/>
<circle cx="792.6" cy="140.9" r="2.6" fill="#e8476a"/>
<circle cx="707.3" cy="183.5" r="2.6" fill="#e8476a"/>
<circle cx="680.5" cy="226.1" r="2.6" fill="#e8476a"/>
<circle cx="718.5" cy="268.8" r="2.6" fill="#e8476a"/>
<circle cx="794.4" cy="311.4" r="2.6" fill="#e8476a"/>
<circle cx="701.3" cy="354.0" r="2.6" fill="#e8476a"/>
<circle cx="655.6" cy="396.6" r="2.6" fill="#e8476a"/>
<circle cx="637.8" cy="439.3" r="2.6" fill="#e8476a"/>
<circle cx="633.9" cy="481.9" r="2.6" fill="#e8476a"/>
<circle cx="625.1" cy="524.5" r="2.6" fill="#e8476a"/>
<text x="637.6" y="118.3" font-size="14.5" textLength="91.5" lengthAdjust="spacingAndGlyphs" text-anchor="middle" >(2010-2014)</text>
<text x="638.3" y="130.8" font-size="12.4" textLength="106.9" lengthAdjust="spacingAndGlyphs" text-anchor="middle" >Historical period</text>
<line x1="641.1" y1="135.3" x2="679.3" y2="172.1" stroke="#14110f" stroke-width="3.2" />
<text x="783.4" y="224.7" font-size="12.6" textLength="63.2" lengthAdjust="spacingAndGlyphs" text-anchor="middle" >SSP5-8.5</text>
<text x="785.5" y="238.9" font-size="14.5" textLength="91" lengthAdjust="spacingAndGlyphs" text-anchor="middle" >(2095-2099)</text>
<line x1="741.3" y1="167.5" x2="781.4" y2="210.6" stroke="#e8476a" stroke-width="3.2" />
<text x="664.8" y="286.8" font-size="14.5" textLength="91.7" lengthAdjust="spacingAndGlyphs" text-anchor="middle" >(2095-2099)</text>
<text x="665.9" y="299" font-size="12.6" textLength="63.2" lengthAdjust="spacingAndGlyphs" text-anchor="middle" >SSP2-4.5</text>
<line x1="674.6" y1="302.8" x2="725.3" y2="331.7" stroke="#7ca48b" stroke-width="3.2" />
</svg>
</body></html>
